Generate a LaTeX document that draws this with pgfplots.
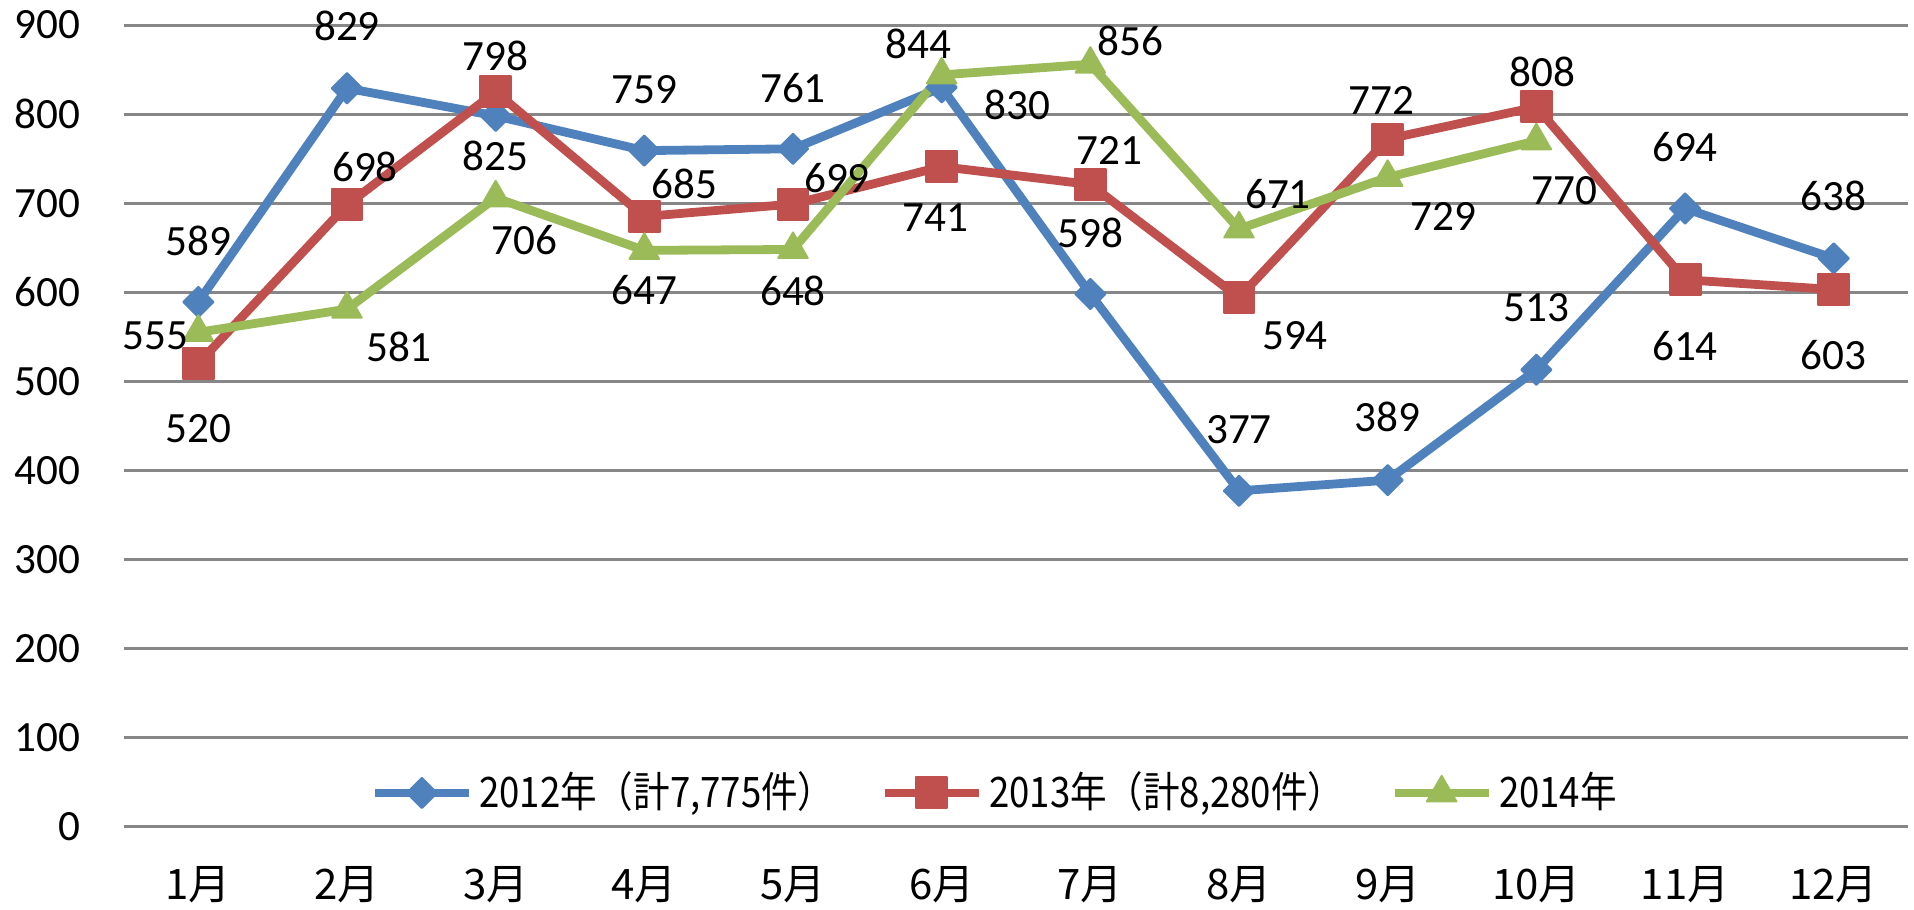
\documentclass[border=0pt]{standalone}
\usepackage{fontspec}
\setmainfont{Carlito}
\newfontfamily\jp{Noto Sans CJK JP}
\newfontfamily\jpleg[FakeStretch=0.87]{Noto Sans CJK JP}
\usepackage{pgfplots}
\pgfplotsset{compat=1.18}
\definecolor{cA}{HTML}{4F81BD}
\definecolor{cB}{HTML}{C0504D}
\definecolor{cC}{HTML}{9BBB59}
\definecolor{gridgray}{HTML}{878787}

\pgfplotsset{
  lbl/.style={
    nodes near coords,
    visualization depends on={\thisrow{dx}\as\mydx},
    visualization depends on={\thisrow{up}\as\myup},
    every node near coord/.append style={font=\fontsize{10.8}{12}\selectfont, text=black, anchor=center, inner sep=0pt,
      xshift={\mydx*0.25pt}, yshift={\myup*0.25pt}},
  },
  sA/.style={color=cA, line width=2.2pt, line join=round, mark=square*, mark size=2.67pt, mark options={rotate=45, line width=0.5pt, fill=cA}},
  sB/.style={color=cB, line width=2.2pt, line join=round, mark=square*, mark size=3.87pt, mark options={line width=0.5pt, fill=cB}},
  sC/.style={color=cC, line width=2.2pt, line join=round, mark=triangle*, mark size=4.25pt, mark options={line width=0.5pt, fill=cC}},
}

\begin{document}
\begin{tikzpicture}
\path[use as bounding box] (-31pt,-20.8pt) rectangle (447.5pt,206.65pt);
\begin{axis}[
  scale only axis, width=446pt, height=200.4pt,
  at={(0pt,0pt)}, anchor=south west,
  xmin=-0.5, xmax=11.5, ymin=0, ymax=900,
  ytick={0,100,...,900},
  xtick={0,...,11},
  xticklabels={1月,2月,3月,4月,5月,6月,7月,8月,9月,10月,11月,12月},
  axis line style={draw=none},
  major tick length=0pt,
  ymajorgrids, grid style={color=gridgray, line width=0.75pt},
  /pgf/number format/assume math mode=true,
  yticklabel style={font=\fontsize{10.8}{12}\selectfont, anchor=east, inner sep=0pt, xshift=-10.75pt},
  xticklabel style={font=\jp\fontsize{10.5}{12}\selectfont, anchor=center, inner sep=0pt, yshift=-14.5pt},
  clip=false,
  legend columns=3,
  legend style={at={(0.488,0.042)}, anchor=center, draw=none, fill=none,
    font=\jpleg\fontsize{10.5}{12}\selectfont,
    nodes={inner sep=0.5pt},
    /tikz/every even column/.append style={column sep=11pt},
    /tikz/every odd column/.append style={column sep=1pt}},
  legend image code/.code={\draw[mark repeat=2,mark phase=2,#1] plot coordinates {(0pt,0pt) (11.75pt,0pt) (23.5pt,0pt)};},
]
\addplot[sA, lbl, forget plot] table[x=mon,y=val] {
mon val dx up
0 589 0 61
1 829 0 62
2 798 0 60
3 759 0 61
4 761 0 61
5 830 76 -18
6 598 0 61
7 377 0 61
8 389 0 63
9 513 0 62
10 694 0 61
11 638 0 62
};
\addplot[sB, lbl, forget plot] table[x=mon,y=val] {
mon val dx up
0 520 0 -65
1 698 18 38
2 825 0 -64
3 685 40 33
4 699 44 26
5 741 -6 -51
6 721 19 34
7 594 56 -38
8 772 -6 39
9 808 6 35
10 614 0 -66
11 603 0 -66
};
\addplot[sC, lbl, forget plot] table[x=mon,y=val] {
mon val dx up
0 555 -43 -3
1 581 52 -38
2 706 29 -42
3 647 0 -40
4 648 0 -41
5 844 -23 31
6 856 40 23
7 671 39 35
8 729 56 -39
9 770 28 -50
};
\addlegendimage{sA}
\addlegendentry{2012年（計7,775件）}
\addlegendimage{sB}
\addlegendentry{2013年（計8,280件）}
\addlegendimage{sC}
\addlegendentry{2014年}
\end{axis}
\end{tikzpicture}
\end{document}
